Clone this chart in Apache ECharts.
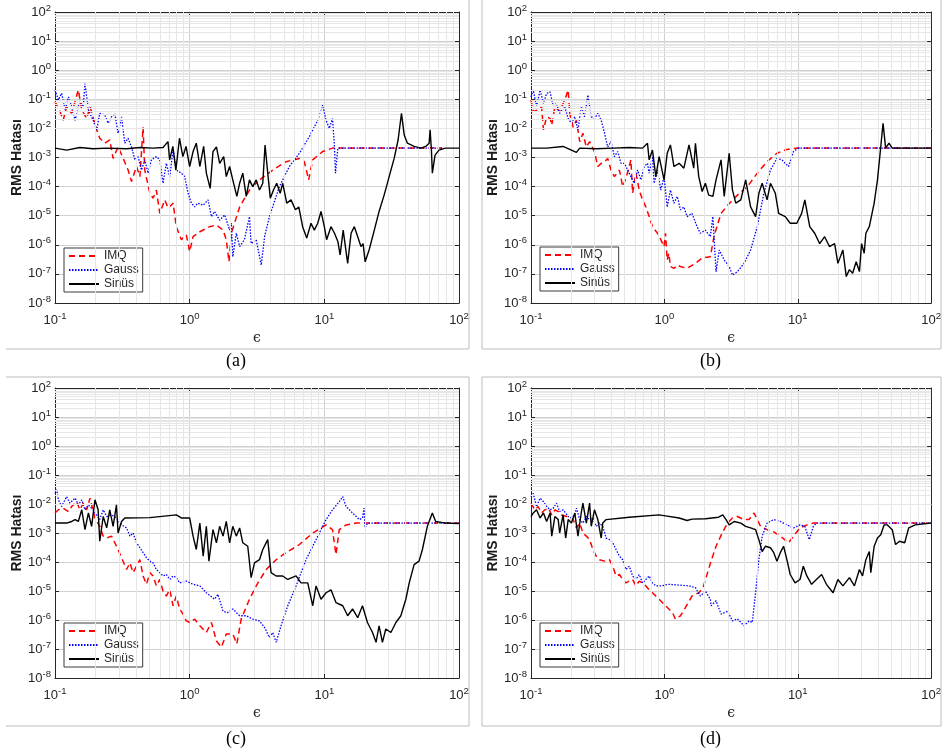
<!DOCTYPE html>
<html>
<head>
<meta charset="utf-8">
<script src="https://cdn.jsdelivr.net/npm/echarts@6/dist/echarts.min.js"></script>
<style>
  html, body { margin: 0; padding: 0; background: #fff; }
  #chart { width: 944px; height: 750px; }
</style>
</head>
<body>
<div id="chart"></div>
<script>
// values: [epsilon, RMS error]
const imqA = [[0.1,8.3e-2],[0.109,3.8e-2],[0.115,1.9e-2],[0.122,5.6e-2],[0.133,3.3e-2],[0.149,0.21],[0.158,4.3e-2],[0.172,2.2e-2],[0.182,5.6e-2],[0.204,8.9e-3],[0.215,4.6e-3],[0.234,3.1e-3],[0.255,4e-3],[0.27,9.3e-4],[0.294,2.3e-3],[0.321,9.3e-4],[0.349,3.7e-4],[0.37,1.5e-4],[0.403,4.9e-4],[0.427,2.2e-4],[0.451,1.1e-2],[0.464,3.7e-4],[0.506,5.9e-5],[0.535,4e-5],[0.566,7.6e-5],[0.6,1.2e-5],[0.653,3.5e-5],[0.692,1.8e-5],[0.753,2.7e-5],[0.796,4.2e-6],[0.867,1.5e-6],[0.944,2.2e-6],[1.0,5.9e-7],[1.06,1.9e-6],[1.19,2.8e-6],[1.41,4.2e-6],[1.58,4.8e-6],[1.77,3.2e-6],[1.87,1.5e-6],[1.96,2.6e-7],[2.04,2.5e-6],[2.35,2e-5],[2.78,7.6e-5],[3.3,1.7e-4],[4.14,3.7e-4],[5.2,7.2e-4],[6.53,9.3e-4],[7.1,7.2e-4],[7.65,1.7e-4],[8.2,8.3e-4],[9.7,1.6e-3],[11.5,2.1e-3],[20,2.1e-3],[75,2.1e-3]];
const gaussA = [[0.1,0.21],[0.106,9.5e-2],[0.112,0.16],[0.119,4.3e-2],[0.126,0.12],[0.133,5.6e-2],[0.141,1.9e-2],[0.153,9.5e-2],[0.162,5.6e-2],[0.167,0.35],[0.177,4.3e-2],[0.192,1.9e-2],[0.204,8.9e-3],[0.215,3.3e-2],[0.234,2.9e-2],[0.248,1.5e-2],[0.263,2.5e-2],[0.278,3.3e-2],[0.294,6.8e-3],[0.312,2.5e-2],[0.33,3.1e-3],[0.349,4.6e-3],[0.37,2.3e-3],[0.392,8.3e-4],[0.414,1.07e-3],[0.439,3.7e-4],[0.464,8.3e-4],[0.491,2.9e-4],[0.52,8.3e-4],[0.566,1.07e-3],[0.6,8.3e-4],[0.634,1.3e-4],[0.671,6.3e-4],[0.711,2.2e-4],[0.753,1.8e-3],[0.796,3.7e-4],[0.867,2.9e-4],[0.918,2.2e-4],[0.973,5.9e-5],[1.03,2.7e-5],[1.09,2e-5],[1.15,2.7e-5],[1.26,2.3e-5],[1.37,3.5e-5],[1.45,9.3e-6],[1.53,1.4e-5],[1.67,7e-6],[1.82,1.07e-5],[1.98,3.2e-6],[2.04,5.5e-6],[2.09,3.9e-7],[2.22,2.5e-6],[2.35,8.7e-7],[2.55,1.5e-6],[2.78,9.3e-6],[2.86,1.1e-6],[3.12,1.5e-6],[3.4,2e-7],[3.6,1.9e-6],[3.91,9.3e-6],[4.64,1e-4],[5.5,4.9e-4],[6.53,1.4e-3],[7.74,5.2e-3],[8.93,1.9e-2],[9.72,6.4e-2],[10.3,1.9e-2],[10.9,1e-2],[11.5,2.2e-2],[11.9,2.3e-3],[12.1,2.9e-4],[12.6,2.1e-3],[20,2.1e-3],[75,2.1e-3]];
const sinA = [[0.1,2.1e-3],[0.122,1.8e-3],[0.153,2.2e-3],[0.192,2e-3],[0.242,2.1e-3],[0.34,2e-3],[0.427,2.2e-3],[0.535,2.1e-3],[0.634,2.2e-3],[0.69,3.5e-3],[0.71,8.3e-4],[0.75,2.4e-3],[0.79,3.7e-4],[0.84,4.6e-3],[0.89,1.07e-3],[0.94,2.4e-3],[1.0,4.9e-4],[1.06,1.6e-3],[1.12,3.1e-3],[1.19,4.9e-4],[1.27,2.4e-3],[1.33,2.9e-4],[1.42,8.7e-5],[1.49,1.6e-3],[1.58,2.3e-3],[1.67,6.3e-4],[1.79,1.07e-3],[1.87,2.2e-4],[1.98,4.9e-4],[2.09,1.7e-4],[2.24,4.6e-5],[2.35,1.3e-4],[2.48,2.9e-4],[2.63,4.6e-5],[2.78,1.7e-4],[2.94,1e-4],[3.12,1.7e-4],[3.3,7.6e-5],[3.49,1.3e-4],[3.63,2.7e-3],[3.8,2.9e-4],[3.97,4e-5],[4.19,7.6e-5],[4.43,1.3e-4],[4.7,5.9e-5],[4.91,1.3e-4],[5.26,2.7e-5],[5.66,3.5e-5],[6.1,1.6e-5],[6.46,2e-5],[6.9,4.2e-6],[7.4,1.7e-6],[7.96,5.5e-6],[8.43,3.2e-6],[8.93,5.5e-6],[9.45,1.4e-5],[10,4.2e-6],[10.4,1.5e-6],[11.2,4.2e-6],[11.9,2.5e-6],[12.6,1.3e-6],[13.1,4.5e-7],[13.8,3.2e-6],[14.9,2.3e-7],[15.8,2.5e-6],[16.7,4.2e-6],[17.7,1.9e-6],[18.7,8.7e-7],[19.4,1.1e-6],[20.1,2.6e-7],[21.5,6.6e-7],[23.5,3.2e-6],[25.5,1.4e-5],[27.8,5.1e-5],[30.3,2.2e-4],[33,9.3e-4],[35.3,4e-3],[37.4,3.3e-2],[39.2,5.9e-3],[41.4,3.1e-3],[46.4,2.4e-3],[52,2.1e-3],[56.6,2.4e-3],[60,3.1e-3],[61,8.9e-3],[62.4,1.8e-3],[63.4,2.9e-4],[66.4,1.2e-3],[71,1.8e-3],[79,2.1e-3],[100,2.1e-3]];

const imqB = [[0.1,9.5e-2],[0.104,3.8e-2],[0.113,4.3e-2],[0.12,5.6e-2],[0.124,8.9e-3],[0.131,2.5e-2],[0.139,2.2e-2],[0.143,1.3e-2],[0.151,5.6e-2],[0.164,3.8e-2],[0.179,9.5e-2],[0.19,0.21],[0.195,3.3e-2],[0.207,1.1e-2],[0.219,1.9e-2],[0.232,3.5e-3],[0.245,6.8e-3],[0.26,2.3e-3],[0.275,3.5e-3],[0.299,1.6e-3],[0.317,4.9e-4],[0.336,6.3e-4],[0.356,7.2e-4],[0.376,9.3e-4],[0.398,3.7e-4],[0.422,2.2e-4],[0.46,3.7e-4],[0.487,1e-4],[0.515,1.9e-4],[0.561,8.3e-4],[0.578,5.9e-5],[0.612,2.9e-4],[0.648,7.6e-5],[0.686,3.5e-5],[0.726,2e-5],[0.769,9.3e-6],[0.814,4.2e-6],[0.888,2.5e-6],[0.94,1.5e-6],[0.995,8.7e-7],[1.02,2.5e-6],[1.05,3e-7],[1.08,5.1e-7],[1.11,1.8e-7],[1.18,1.55e-7],[1.25,2e-7],[1.32,1.8e-7],[1.48,1.55e-7],[1.71,2.3e-7],[1.92,3.5e-7],[2.21,3.9e-7],[2.37,2.2e-6],[2.66,1.2e-5],[2.98,2.3e-5],[3.53,5.1e-5],[4.19,1e-4],[4.97,2.9e-4],[5.89,7.2e-4],[6.98,1.4e-3],[8.29,1.9e-3],[9.84,2.1e-3],[100,2.1e-3]];
const gaussB = [[0.1,0.12],[0.104,0.21],[0.11,5.6e-2],[0.117,0.21],[0.124,7.3e-2],[0.131,0.16],[0.139,0.18],[0.147,5.6e-2],[0.155,7.3e-2],[0.164,3.3e-2],[0.179,5.6e-2],[0.19,2.2e-2],[0.201,1.5e-2],[0.213,2.5e-2],[0.225,8.9e-3],[0.238,5.6e-2],[0.252,2.5e-2],[0.267,0.14],[0.283,2.5e-2],[0.299,2.2e-2],[0.317,3.3e-2],[0.336,1.9e-2],[0.356,6.8e-3],[0.376,2.3e-3],[0.398,3.5e-3],[0.422,1.07e-3],[0.447,1.6e-3],[0.473,6.3e-4],[0.501,6.3e-4],[0.531,3.7e-4],[0.561,2.2e-4],[0.594,1.3e-4],[0.63,3.7e-4],[0.667,1.7e-4],[0.706,4.9e-4],[0.747,6.3e-4],[0.769,2.9e-4],[0.814,1.07e-3],[0.838,1.3e-4],[0.888,3.7e-4],[0.94,7.6e-5],[0.995,2.2e-4],[1.05,2e-5],[1.11,7.6e-5],[1.18,2.7e-5],[1.25,4.6e-5],[1.32,1.6e-5],[1.4,2e-5],[1.48,9.3e-6],[1.61,1.2e-5],[1.76,4.2e-6],[1.86,2.5e-6],[2.03,3.2e-6],[2.21,1.9e-6],[2.31,9.3e-6],[2.44,1.2e-7],[2.58,6.6e-7],[2.81,3e-7],[3.06,1.8e-7],[3.24,9.1e-8],[3.53,1.2e-7],[3.96,2.3e-7],[4.43,6.6e-7],[4.97,4.2e-6],[5.57,5.9e-5],[6.24,3.7e-4],[6.98,9.3e-4],[7.62,8.3e-4],[8.06,6.3e-4],[8.53,4.9e-4],[9.29,1.6e-3],[10.1,2.1e-3],[100,2.1e-3]];
const sinB = [[0.1,2.1e-3],[0.131,2.1e-3],[0.174,2.4e-3],[0.219,1.5e-3],[0.232,2.1e-3],[0.308,2e-3],[0.41,2.1e-3],[0.546,2.2e-3],[0.686,2.1e-3],[0.747,3.1e-3],[0.769,8.3e-4],[0.814,1.8e-3],[0.863,2.2e-4],[0.913,1.07e-3],[0.995,1.7e-4],[1.05,1.4e-3],[1.11,2.7e-3],[1.18,4.9e-4],[1.29,6.3e-4],[1.4,4.3e-4],[1.53,2.7e-3],[1.66,4.3e-4],[1.71,3.1e-3],[1.81,2.2e-4],[1.92,6.8e-5],[2.03,1.3e-4],[2.15,5.1e-5],[2.31,4.6e-5],[2.44,1.7e-4],[2.66,8.3e-4],[2.81,4.6e-5],[3.06,1.4e-3],[3.24,7.6e-5],[3.43,2.7e-5],[3.74,3.5e-5],[4.07,1.7e-4],[4.43,2e-5],[4.83,9.3e-6],[5.11,5.9e-5],[5.41,1.3e-4],[5.89,3.5e-5],[6.24,1.3e-4],[6.79,5.9e-5],[7.19,1.2e-5],[8.06,9.3e-6],[8.78,5.5e-6],[9.84,5.5e-6],[10.7,1.2e-5],[11.3,3.5e-5],[12.3,4.2e-6],[13.4,2.5e-6],[14.6,1.1e-6],[15.9,1.9e-6],[17.3,8.7e-7],[18.9,1.1e-6],[20,2.3e-7],[21.8,6.6e-7],[23.1,8.1e-8],[24.4,1.4e-7],[25.8,1.05e-7],[27.4,2.6e-7],[29,1.2e-7],[30.1,1.1e-6],[31.5,5.1e-7],[32.4,2.5e-6],[34.4,4.2e-6],[37.4,2.7e-5],[39.6,1.7e-4],[41.9,2.3e-3],[43.6,1.5e-2],[45.6,2.1e-3],[48.3,3.1e-3],[51.1,2.1e-3],[100,2.1e-3]];

const imqC = [[0.1,4.9e-3],[0.106,6.3e-3],[0.115,7.2e-3],[0.126,5.5e-3],[0.133,8.2e-3],[0.145,1.2e-2],[0.153,6.3e-3],[0.162,1.07e-2],[0.172,6.3e-3],[0.182,1.6e-2],[0.198,3.3e-3],[0.215,1.7e-3],[0.228,7.8e-4],[0.242,6.7e-4],[0.263,7.8e-4],[0.278,4.6e-4],[0.294,2.7e-4],[0.312,1.4e-4],[0.34,5.5e-5],[0.36,9.3e-5],[0.38,4.3e-5],[0.403,7.2e-5],[0.427,1.2e-4],[0.451,3.3e-5],[0.478,1.7e-5],[0.506,4.3e-5],[0.535,3.3e-5],[0.566,1.5e-5],[0.6,2.5e-5],[0.634,1e-5],[0.671,6.7e-6],[0.711,1.1e-5],[0.753,3.1e-6],[0.796,6.7e-6],[0.843,2.4e-6],[0.893,1.6e-6],[0.944,9.3e-7],[1.0,8.2e-7],[1.09,1.07e-6],[1.19,6.3e-7],[1.33,3.7e-7],[1.45,8.2e-7],[1.58,1.9e-7],[1.72,1.15e-7],[1.87,3.3e-7],[2.09,3.3e-7],[2.24,1.5e-7],[2.41,1.07e-6],[2.78,5.2e-6],[3.21,1.9e-5],[3.7,5.5e-5],[4.39,1.2e-4],[5.2,2.1e-4],[6.53,4e-4],[8.2,1e-3],[10.3,1.9e-3],[11.5,1.3e-3],[12.2,1.8e-4],[12.9,1.3e-3],[14.5,1.9e-3],[17.2,2.2e-3],[100,2.2e-3]];
const gaussC = [[0.1,2.3e-2],[0.103,3.1e-2],[0.106,1.4e-2],[0.112,8.2e-3],[0.122,1.8e-2],[0.129,1.07e-2],[0.141,1.6e-2],[0.149,9.3e-3],[0.158,1.4e-2],[0.167,6.3e-3],[0.177,9.3e-3],[0.192,6.3e-3],[0.204,4.2e-3],[0.215,2.9e-3],[0.228,6.3e-3],[0.242,3.7e-3],[0.263,4.2e-3],[0.286,3.3e-3],[0.312,1.9e-3],[0.34,1.5e-3],[0.36,7.8e-4],[0.38,1e-3],[0.403,4.6e-4],[0.427,3.1e-4],[0.451,2.1e-4],[0.478,1.4e-4],[0.506,1.07e-4],[0.535,9.3e-5],[0.566,5.5e-5],[0.6,4.3e-5],[0.634,3.3e-5],[0.671,3.7e-5],[0.711,2.5e-5],[0.753,3.3e-5],[0.796,2.9e-5],[0.843,1.9e-5],[0.944,2.2e-5],[1.06,1.7e-5],[1.19,1.5e-5],[1.33,8.7e-6],[1.53,5.2e-6],[1.62,7.7e-6],[1.77,2e-6],[1.92,1.8e-6],[2.09,2.4e-6],[2.35,1.4e-6],[2.63,1.4e-6],[2.94,1.07e-6],[3.3,9.3e-7],[3.6,5.5e-7],[3.91,2.5e-7],[4.14,3.7e-7],[4.39,1.7e-7],[4.77,6.3e-7],[5.35,3.1e-6],[6.17,1.5e-5],[7.31,1.2e-4],[8.68,5.9e-4],[10.3,2.9e-3],[11.5,6.3e-3],[12.9,1.2e-2],[13.7,1.8e-2],[14.5,8.2e-3],[16.2,4.9e-3],[18.2,2.9e-3],[19.2,3.3e-3],[19.7,7.2e-3],[20.1,1.5e-3],[20.9,2.2e-3],[100,2.2e-3]];
const sinC = [[0.1,2.2e-3],[0.122,2.2e-3],[0.133,2.5e-3],[0.141,2.9e-3],[0.149,2.5e-3],[0.158,6.3e-3],[0.167,1.3e-3],[0.177,4.9e-3],[0.187,1.7e-3],[0.198,1.4e-2],[0.209,6.3e-3],[0.215,5.2e-4],[0.228,3.7e-3],[0.242,1.5e-3],[0.255,6.3e-3],[0.27,1.7e-3],[0.286,9.3e-3],[0.294,1e-3],[0.312,2.5e-3],[0.33,3.3e-3],[0.506,3.4e-3],[0.796,4.2e-3],[0.867,3.3e-3],[1.0,3.3e-3],[1.06,7.8e-4],[1.12,2.7e-4],[1.19,2.2e-3],[1.26,1.6e-4],[1.33,1.7e-3],[1.39,1.07e-4],[1.49,1.3e-3],[1.58,4.6e-4],[1.67,1.7e-3],[1.77,7.8e-4],[1.87,2.5e-3],[1.98,4.6e-4],[2.09,1.7e-3],[2.22,7.8e-4],[2.35,1.5e-3],[2.48,4.6e-4],[2.7,3.5e-4],[2.86,2.9e-5],[3.03,9.3e-5],[3.3,1.2e-4],[3.49,2.7e-4],[3.8,5.9e-4],[4.02,4.3e-5],[4.39,3.3e-5],[4.91,3.3e-5],[5.35,2.5e-5],[6.17,3.3e-5],[6.71,1.9e-5],[7.53,1.9e-5],[8.2,3.1e-6],[8.68,1.5e-5],[9.45,5.2e-6],[10.3,8.7e-6],[11.2,1.1e-5],[12.2,4e-6],[13.7,3.1e-6],[14.9,1.4e-6],[16.2,2.4e-6],[17.7,1.2e-6],[19.2,3.1e-6],[20.9,8.2e-7],[22.8,3.7e-7],[24.2,1.7e-7],[25.5,6.3e-7],[27,1.7e-7],[28.6,4.9e-7],[31.2,3.7e-7],[34,8.2e-7],[37,1.4e-6],[40.3,5.2e-6],[42.7,1.9e-5],[46.4,8.1e-5],[50.5,1.07e-4],[53.5,2.7e-4],[58.2,1.7e-3],[63.4,4.9e-3],[67.1,2.5e-3],[79.6,2.2e-3],[100,2.1e-3]];

const imqD = [[0.1,1.07e-2],[0.107,6.3e-3],[0.113,8.2e-3],[0.12,4.9e-3],[0.127,6.3e-3],[0.135,7.2e-3],[0.143,4.2e-3],[0.151,6.3e-3],[0.16,5.5e-3],[0.169,4.2e-3],[0.184,3.7e-3],[0.195,3.3e-3],[0.207,2.9e-3],[0.219,1.5e-3],[0.232,2.2e-3],[0.245,1e-3],[0.26,7.8e-4],[0.275,5.9e-4],[0.291,2.7e-4],[0.308,1.6e-4],[0.326,1.2e-4],[0.356,1.07e-4],[0.387,1.2e-4],[0.41,7.2e-5],[0.434,3.3e-5],[0.46,3.7e-5],[0.487,2.5e-5],[0.515,1.9e-5],[0.546,2.2e-5],[0.578,2.5e-5],[0.612,1.5e-5],[0.648,2.2e-5],[0.686,1.9e-5],[0.726,1.5e-5],[0.769,1.1e-5],[0.814,8.7e-6],[0.913,5.2e-6],[1.02,3.1e-6],[1.15,1.8e-6],[1.21,1.07e-6],[1.32,1.4e-6],[1.44,2.7e-6],[1.61,6.7e-6],[1.81,8.7e-6],[1.95,1.3e-5],[2.18,7.2e-5],[2.44,3.5e-4],[2.74,1.1e-3],[2.98,2.2e-3],[3.24,3.3e-3],[3.53,3.7e-3],[3.96,2.9e-3],[4.31,2.9e-3],[4.7,4.9e-3],[4.97,2.9e-3],[5.26,1.7e-3],[5.89,1.3e-3],[6.61,1.1e-3],[7.4,7.8e-4],[8.53,4.6e-4],[9.29,7.8e-4],[10.4,1.5e-3],[11.7,1.9e-3],[13.1,2.2e-3],[100,2.2e-3]];
const gaussD = [[0.1,1.8e-2],[0.104,2.3e-2],[0.11,8.2e-3],[0.117,1.6e-2],[0.124,1.2e-2],[0.131,8.2e-3],[0.139,6.3e-3],[0.147,7.2e-3],[0.155,1.07e-2],[0.164,5.5e-3],[0.174,6.3e-3],[0.19,3.7e-3],[0.201,3.3e-3],[0.213,4.2e-3],[0.219,7.2e-3],[0.232,2.9e-3],[0.245,2.2e-3],[0.26,3.7e-3],[0.275,2.9e-3],[0.291,3.3e-3],[0.308,1.7e-3],[0.326,2.2e-3],[0.345,1.7e-3],[0.366,6.7e-4],[0.387,5.9e-4],[0.41,4.6e-4],[0.434,2.7e-4],[0.46,1.6e-4],[0.487,1.2e-4],[0.515,5.5e-5],[0.546,7.2e-5],[0.578,3.3e-5],[0.612,2.5e-5],[0.648,3.7e-5],[0.686,1.9e-5],[0.726,2.5e-5],[0.769,3.3e-5],[0.814,1.9e-5],[0.863,1.5e-5],[0.94,1.5e-5],[1.08,1.7e-5],[1.29,1.6e-5],[1.53,1.5e-5],[1.71,1.3e-5],[1.86,6.7e-6],[2.03,1e-5],[2.21,5.2e-6],[2.24,3.1e-6],[2.44,4.6e-6],[2.66,1.6e-6],[2.98,2e-6],[3.24,9.3e-7],[3.53,1.1e-6],[3.96,6.3e-7],[4.31,9.3e-7],[4.56,8.2e-7],[4.83,8.7e-6],[5.11,1.2e-4],[5.41,7.8e-4],[5.89,2.2e-3],[6.61,2.9e-3],[7.4,2.5e-3],[8.29,1.9e-3],[9.29,1.5e-3],[10.4,1.9e-3],[11.3,1.7e-3],[12.2,5.9e-4],[13.1,1.7e-3],[13.8,2.2e-3],[100,2.2e-3]];
const sinD = [[0.1,3.7e-3],[0.104,4.9e-3],[0.11,6.3e-3],[0.117,3.3e-3],[0.124,4.9e-3],[0.131,2.5e-3],[0.139,4.9e-3],[0.143,7.8e-4],[0.151,3.7e-3],[0.16,2.9e-3],[0.164,1e-3],[0.174,4.2e-3],[0.182,6.7e-4],[0.19,2.9e-3],[0.201,2.2e-3],[0.213,4.9e-3],[0.225,7.8e-4],[0.238,4.9e-3],[0.245,1.07e-2],[0.26,2.2e-3],[0.275,1.07e-2],[0.283,1.7e-3],[0.299,6.3e-3],[0.317,2.9e-3],[0.336,6.7e-4],[0.345,2.2e-3],[0.366,2.9e-3],[0.376,3.3e-3],[0.546,3.5e-3],[0.913,4.2e-3],[1.02,3.9e-3],[1.29,3.3e-3],[1.48,2.7e-3],[1.61,3e-3],[2.03,3.1e-3],[2.55,3.5e-3],[2.74,4.2e-3],[2.9,2.9e-3],[3.06,1.9e-3],[3.34,2.5e-3],[3.74,2.2e-3],[4.07,1.7e-3],[4.43,1.5e-3],[4.83,1.3e-3],[5.11,5.9e-4],[5.41,2.3e-4],[5.73,3.5e-4],[6.24,3.1e-4],[6.61,2.1e-4],[6.98,1.07e-4],[7.4,2.1e-4],[7.83,3.5e-4],[8.29,1.2e-4],[8.78,3.7e-5],[9.55,1.9e-5],[10.4,2.5e-5],[11,7.2e-5],[11.7,3.3e-5],[12.7,1.7e-5],[13.8,2.5e-5],[15.1,3.7e-5],[16.4,1.7e-5],[18.4,8.7e-6],[20,2.5e-5],[21.8,1.5e-5],[24.4,2.9e-5],[26.6,1.5e-5],[29,5.5e-5],[30.6,3.3e-5],[32.4,1.2e-4],[34.4,2.3e-4],[35.3,4.3e-5],[37.4,3.5e-4],[39.6,6.7e-4],[41.9,8.7e-4],[44.4,1.9e-3],[47,1.9e-3],[51.1,1.3e-3],[54.1,4e-4],[57.9,5.2e-4],[63.4,4.6e-4],[67.9,1.5e-3],[76,1.9e-3],[100,2.2e-3]];

const panels = [
  { tag: "(a)", imq: imqA, gauss: gaussA, sin: sinA },
  { tag: "(b)", imq: imqB, gauss: gaussB, sin: sinB },
  { tag: "(c)", imq: imqC, gauss: gaussC, sin: sinC },
  { tag: "(d)", imq: imqD, gauss: gaussD, sin: sinD },
];
const names = ["IMQ", "Gauss", "Sinüs"];
const xRange = [0.1, 100];
const yRange = [1e-8, 1e2];
const mantissas = [2, 3, 4, 5, 6, 7, 8, 9];
const xDecades = [0.1, 1, 10];
const yDecades = [1e-8, 1e-7, 1e-6, 1e-5, 1e-4, 1e-3, 1e-2, 1e-1, 1, 10];

const font = "'Liberation Sans', Arial, sans-serif";
const axisColor = "#262626";

const boxes = [
  { left: 55, top: 12, width: 404, height: 291 },
  { left: 531, top: 12, width: 405, height: 291 },
  { left: 55, top: 388, width: 404, height: 290 },
  { left: 531, top: 388, width: 405, height: 290 },
];
const legendPos = [[64, 248], [540, 247], [64, 623], [540, 623]];

function powLabel(v) {
  const e = Math.round(Math.log10(v));
  return "{b|10}{s|" + e + "}";
}
const labelRich = {
  b: { fontSize: 13, color: axisColor, fontFamily: font },
  s: { fontSize: 9.5, color: axisColor, fontFamily: font, padding: [0, 0, 8, 0] },
};

const xMinor = [];
xDecades.forEach(d => mantissas.forEach(m => xMinor.push({ xAxis: +(m * d).toPrecision(3) })));
const yMinor = [];
yDecades.forEach(d => mantissas.forEach(m => yMinor.push({ yAxis: +(m * d).toPrecision(3) })));

const xAxes = [], yAxes = [], series = [], legends = [];

boxes.forEach((b, i) => {
  const tick = { show: true, inside: true, length: 4, lineStyle: { color: axisColor } };
  xAxes.push({
    type: "log", gridIndex: i, min: xRange[0], max: xRange[1], interval: 1,
    axisLine: { lineStyle: { color: axisColor, width: 1 } },
    axisTick: tick,
    axisLabel: { formatter: powLabel, rich: labelRich, margin: 8, showMinLabel: true, showMaxLabel: true },
    splitLine: { show: true, lineStyle: { color: "#d0d0d0", width: 1 } },
    name: "ϵ", nameLocation: "middle", nameGap: 28,
    nameTextStyle: { fontFamily: "'DejaVu Serif', serif", fontSize: 14, color: axisColor },
  });
  xAxes.push({
    type: "log", gridIndex: i, min: xRange[0], max: xRange[1], interval: 1, position: "top",
    axisLine: { lineStyle: { color: axisColor, width: 1 } },
    axisTick: tick, axisLabel: { show: false }, splitLine: { show: false },
  });
  yAxes.push({
    type: "log", gridIndex: i, min: yRange[0], max: yRange[1], interval: 1,
    axisLine: { lineStyle: { color: axisColor, width: 1 } },
    axisTick: tick,
    axisLabel: { formatter: powLabel, rich: labelRich, margin: 4, showMinLabel: true, showMaxLabel: true },
    splitLine: { show: true, lineStyle: { color: "#d0d0d0", width: 1 } },
    name: "RMS Hatası", nameLocation: "middle", nameGap: 31,
    nameTextStyle: { fontFamily: font, fontSize: 14, fontWeight: "bold", color: "#1a1a1a" },
  });
  yAxes.push({
    type: "log", gridIndex: i, min: yRange[0], max: yRange[1], interval: 1, position: "right",
    axisLine: { lineStyle: { color: axisColor, width: 1 } },
    axisTick: tick, axisLabel: { show: false }, splitLine: { show: false },
  });

  // minor grid (2..9 in every decade)
  series.push({
    type: "line", xAxisIndex: 2 * i, yAxisIndex: 2 * i, data: [], silent: true, z: 1,
    markLine: {
      silent: true, symbol: "none", animation: false, label: { show: false },
      lineStyle: { color: "#e6e6e6", width: 1, type: "solid" },
      data: xMinor.concat(yMinor),
    },
  });

  const p = panels[i];
  const styles = [
    { data: p.imq, color: "#ff0000", type: [6, 4], width: 1.5 },
    { data: p.gauss, color: "#0000ff", type: [1.5, 1.5], width: 1.3 },
    { data: p.sin, color: "#000000", type: "solid", width: 1.4 },
  ];
  styles.forEach((s, k) => {
    series.push({
      name: names[k], type: "line", xAxisIndex: 2 * i, yAxisIndex: 2 * i,
      data: s.data, showSymbol: false, symbol: "none", z: 3 + k,
      lineStyle: { color: s.color, width: s.width, type: s.type },
      itemStyle: { color: s.color },
    });
  });

  legends.push({
    data: names, orient: "vertical", left: legendPos[i][0], top: legendPos[i][1],
    backgroundColor: "#fff", borderColor: "#3a3a3a", borderWidth: 1, borderRadius: 0,
    padding: [2, 4, 2, 4], itemGap: 2, itemWidth: 30, itemHeight: 13,
    itemStyle: { opacity: 0 },
    textStyle: { fontFamily: font, fontSize: 12, color: axisColor },
    selectedMode: false,
  });
});

const frameColor = "#bdbdbd";
const graphics = [
  { type: "polyline", shape: { points: [[6, 349], [469, 349], [469, 0]] }, style: { stroke: frameColor, fill: null, lineWidth: 1 } },
  { type: "polyline", shape: { points: [[482, 0], [482, 349], [941, 349], [941, 0]] }, style: { stroke: frameColor, fill: null, lineWidth: 1 } },
  { type: "polyline", shape: { points: [[6, 377], [469, 377], [469, 726], [6, 726]] }, style: { stroke: frameColor, fill: null, lineWidth: 1 } },
  { type: "polyline", shape: { points: [[482, 377], [941, 377], [941, 726], [482, 726], [482, 377]] }, style: { stroke: frameColor, fill: null, lineWidth: 1 } },
];
const tagPos = [[238, 363], [712, 363], [238, 741], [712, 741]];
panels.forEach((p, i) => {
  graphics.push({
    type: "text", left: tagPos[i][0] - 12, top: tagPos[i][1] - 11,
    style: { text: p.tag, font: "18px 'Liberation Serif', 'Times New Roman', serif", fill: "#000" },
  });
});

const chart = echarts.init(document.getElementById("chart"), null, { renderer: "canvas" });
chart.setOption({
  animation: false,
  backgroundColor: "#fff",
  grid: boxes.map(b => Object.assign({ containLabel: false }, b)),
  xAxis: xAxes,
  yAxis: yAxes,
  legend: legends,
  series: series,
  graphic: graphics,
});
</script>
</body>
</html>
